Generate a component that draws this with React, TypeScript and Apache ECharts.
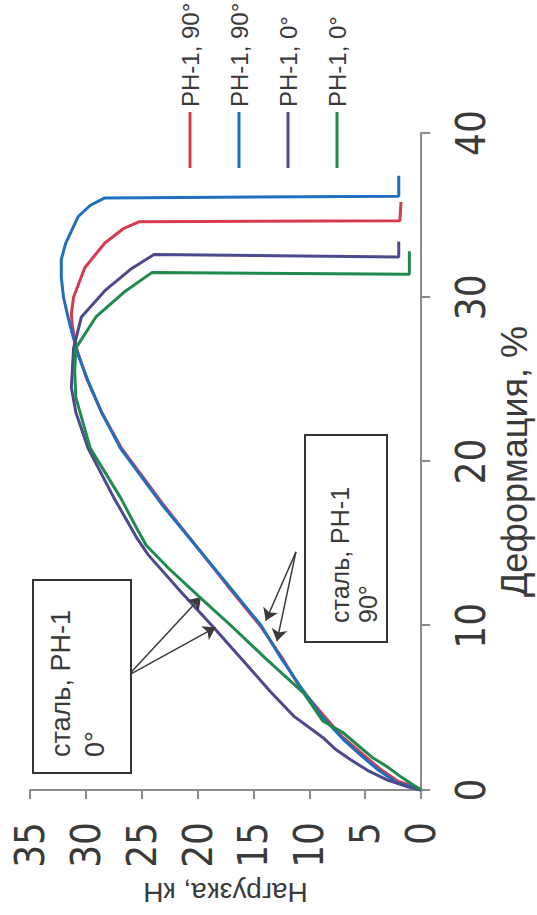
import React, { useEffect, useRef } from "react";
import * as echarts from "echarts";

// Series labels (legend) and colours
const seriesKeys = ["red90", "blue90", "navy0", "green0"];
const seriesLabels = ["РН-1, 90°", "РН-1, 90°", "РН-1, 0°", "РН-1, 0°"];
const seriesColors = ["#d63a50", "#1f6fbf", "#4a4a8c", "#1f8a4e"];

// Axis ticks
const deformationTicks = [0, 10, 20, 30, 40];
const loadTicks = [0, 5, 10, 15, 20, 25, 30, 35];

// РН-1, 90° (red)
const redDeformation = [0, 0.2, 0.5, 1.3, 2.1, 3.2, 4.6, 6.2, 8.0, 10.0, 12.5, 15.0, 17.4, 20.8, 23.0, 25.0, 26.8, 28.2, 29.0, 30.0, 31.8, 33.3, 34.2, 34.6, 34.65, 35.8];
const redLoad = [0, 0.5, 2.0, 3.7, 5.1, 7.0, 8.8, 10.8, 12.4, 14.4, 17.4, 20.3, 23.1, 26.8, 28.6, 29.9, 30.8, 31.2, 31.3, 31.1, 30.1, 28.3, 26.6, 25.2, 1.9, 1.8];

// РН-1, 90° (blue)
const blueDeformation = [0, 0.15, 0.45, 1.2, 2.0, 3.1, 4.5, 6.3, 8.0, 10.0, 12.5, 14.9, 17.3, 20.8, 23.0, 24.9, 26.5, 28.0, 28.8, 30.0, 31.2, 32.3, 33.3, 34.9, 35.6, 36.05, 36.15, 37.4];
const blueLoad = [0, 0.6, 2.2, 3.8, 5.2, 7.0, 8.9, 10.8, 12.5, 14.3, 17.3, 20.2, 23.1, 26.9, 28.6, 29.8, 30.7, 31.3, 31.6, 32.0, 32.2, 32.2, 31.8, 30.7, 29.6, 28.3, 2.0, 2.0];

// РН-1, 0° (navy)
const navyDeformation = [0, 0.2, 0.6, 1.2, 1.84, 2.5, 3.2, 4.5, 6.0, 8.0, 10.0, 12.0, 14.3, 15.3, 17.8, 20.8, 23.0, 24.5, 26.9, 28.8, 30.4, 31.7, 32.6, 32.45, 33.4];
const navyLoad = [0, 1.2, 3.0, 4.8, 6.3, 7.7, 8.8, 11.4, 13.5, 16.1, 18.7, 21.4, 24.4, 25.4, 27.5, 29.8, 30.9, 31.3, 31.1, 30.4, 28.3, 26.0, 23.9, 2.0, 2.0];

// РН-1, 0° (green)
const greenDeformation = [0, 0.3, 0.8, 1.4, 2.0, 2.8, 3.5, 4.2, 5.9, 8.0, 10.0, 11.6, 13.5, 14.9, 16.0, 17.8, 20.8, 23.9, 25.5, 26.9, 28.8, 30.3, 31.5, 31.4, 32.8];
const greenLoad = [0, 0.7, 1.8, 3.0, 4.4, 5.8, 7.0, 8.8, 10.5, 13.9, 17.0, 19.6, 22.6, 24.6, 25.5, 26.9, 29.6, 30.9, 31.0, 30.9, 29.1, 26.6, 24.1, 1.05, 1.05];

// Annotation arrows: [fromDeformation, fromLoad, toDeformation, toLoad]
const arrows0 = [
  [6.98, 26.2, 11.75, 19.7],
  [6.98, 26.2, 9.9, 18.4],
];
const arrows90 = [
  [14.5, 11.2, 10.3, 13.9],
  [14.5, 11.2, 9.06, 12.9],
];

const zip = (xs: number[], ys: number[]) => xs.map((x, i) => [x, ys[i]]);

const NARROW = '"Liberation Sans Narrow", "Arial Narrow", "DejaVu Sans Condensed", sans-serif';
const SANS = '"Liberation Sans", Arial, sans-serif';
const TEXT = "#3a3a3a";
const AXIS = "#8c8c8c";

export default function App() {
  const ref = useRef<HTMLDivElement>(null);
  useEffect(() => {
    const chart = echarts.init(ref.current!, null, { renderer: "svg" });
    const dataSets = [
      zip(redDeformation, redLoad),
      zip(blueDeformation, blueLoad),
      zip(navyDeformation, navyLoad),
      zip(greenDeformation, greenLoad),
    ];
    const arrowData = [...arrows0, ...arrows90].map((a) => [
      { coord: [a[0], a[1]] },
      { coord: [a[2], a[3]] },
    ]);
    const series: any[] = seriesKeys.map((key, i) => ({
      name: key,
      type: "line",
      data: dataSets[i],
      symbol: "none",
      smooth: false,
      color: seriesColors[i],
      lineStyle: { width: 3, color: seriesColors[i] },
      z: 2 + i,
    }));
    series[3].markLine = {
      silent: true,
      symbol: ["none", "arrow"],
      symbolSize: 12,
      lineStyle: { color: "#3a3a3a", width: 1.5, type: "solid" },
      label: { show: false },
      data: arrowData,
    };
    chart.setOption({
      animation: false,
      backgroundColor: "#fff",
      grid: { left: 125, right: 133, top: 30, bottom: 107 },
      legend: {
        orient: "vertical",
        left: 742,
        top: 173,
        icon: "rect",
        itemWidth: 56,
        itemHeight: 3,
        itemGap: 25,
        data: seriesKeys,
        formatter: (name: string) => seriesLabels[seriesKeys.indexOf(name)],
        textStyle: { fontSize: 24, lineHeight: 24, height: 24, fontFamily: SANS, color: TEXT },
      },
      xAxis: {
        type: "value",
        min: deformationTicks[0],
        max: deformationTicks[deformationTicks.length - 1],
        interval: 10,
        name: "Деформация, %",
        nameLocation: "middle",
        nameGap: 73,
        nameTextStyle: { fontSize: 36, fontFamily: SANS, color: TEXT },
        axisLine: { lineStyle: { color: AXIS, width: 2 } },
        axisTick: { show: true, inside: false, length: 9, lineStyle: { color: AXIS, width: 2 } },
        axisLabel: { fontSize: 40, fontFamily: NARROW, color: TEXT, margin: 30 },
        splitLine: { show: false },
      },
      yAxis: {
        type: "value",
        min: loadTicks[0],
        max: loadTicks[loadTicks.length - 1],
        interval: 5,
        name: "Нагрузка, кН",
        nameLocation: "middle",
        nameGap: 86,
        nameTextStyle: { fontSize: 28, fontFamily: SANS, color: TEXT },
        axisLine: { show: true, lineStyle: { color: AXIS, width: 2 } },
        axisTick: { show: true, inside: false, length: 9, lineStyle: { color: AXIS, width: 2 } },
        axisLabel: { fontSize: 40, fontFamily: NARROW, color: TEXT, margin: 32 },
        splitLine: { show: false },
      },
      graphic: [
        {
          type: "rect",
          shape: { x: 142, y: 33, width: 193, height: 98 },
          style: { fill: "#fff", stroke: "#333", lineWidth: 2 },
          z: 100,
        },
        {
          type: "text",
          x: 158,
          y: 44,
          style: {
            text: "сталь, РН-1\n0°",
            font: "27px " + SANS,
            lineHeight: 34,
            fill: TEXT,
            align: "left",
            verticalAlign: "top",
          },
          z: 101,
        },
        {
          type: "rect",
          shape: { x: 273, y: 305, width: 207, height: 82 },
          style: { fill: "#fff", stroke: "#333", lineWidth: 2 },
          z: 100,
        },
        {
          type: "text",
          x: 292,
          y: 326,
          style: {
            text: "сталь, РН-1\n90°",
            font: "25px " + SANS,
            lineHeight: 28,
            fill: TEXT,
            align: "left",
            verticalAlign: "top",
          },
          z: 101,
        },
      ],
      series,
    });
    return () => chart.dispose();
  }, []);
  return (
    <div style={{ position: "fixed", left: 0, top: 0, width: 537, height: 915, overflow: "hidden", background: "#fff" }}>
      <div
        ref={ref}
        style={{
          position: "absolute",
          left: 0,
          top: 0,
          width: 915,
          height: 537,
          transformOrigin: "0 0",
          transform: "translateY(915px) rotate(-90deg)",
        }}
      />
    </div>
  );
}
